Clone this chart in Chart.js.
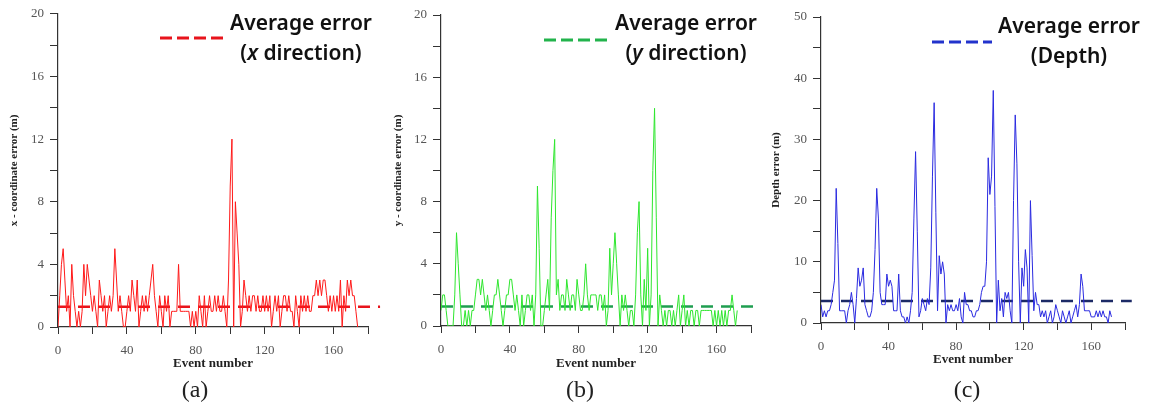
<!DOCTYPE html>
<html>
<head>
<meta charset="utf-8">
<script src="https://cdn.jsdelivr.net/npm/chart.js@4/dist/chart.umd.min.js"></script>
<style>
  body { margin: 0; background: #fff; }
  #wrap { position: relative; width: 1151px; height: 412px; background: #fff; overflow: hidden; }
  canvas { position: absolute; top: 0; }
  .leyenda { position: absolute; font-family: "Noto Sans", sans-serif; font-weight: 600; font-size: 21px; line-height: 30px; color: #111; text-align: center; width: 170px; }
  .muestra { position: absolute; }
  .letra { position: absolute; top: 376px; width: 60px; text-align: center; font-family: "Liberation Serif", serif; font-size: 24px; color: #222; }
</style>
</head>
<body>
<div id="wrap">
  <canvas id="chartX" width="385" height="380" style="left:0px"></canvas>
  <canvas id="chartY" width="385" height="380" style="left:380px"></canvas>
  <canvas id="chartZ" width="391" height="380" style="left:760px"></canvas>

  <svg class="muestra" style="left:160px;top:34px" width="64" height="8"><line x1="0" y1="4" x2="64" y2="4" stroke="#e8141c" stroke-width="3" stroke-dasharray="12,5"/></svg>
  <div class="leyenda" style="left:216px;top:7px">Average error<br>(<i>x</i> direction)</div>

  <svg class="muestra" style="left:544px;top:36px" width="64" height="8"><line x1="0" y1="4" x2="64" y2="4" stroke="#22b34c" stroke-width="3" stroke-dasharray="12,5"/></svg>
  <div class="leyenda" style="left:601px;top:7px">Average error<br>(<i>y</i> direction)</div>

  <svg class="muestra" style="left:932px;top:38px" width="60" height="8"><line x1="0" y1="4" x2="60" y2="4" stroke="#2233cc" stroke-width="3" stroke-dasharray="12,5"/></svg>
  <div class="leyenda" style="left:984px;top:10px">Average error<br>(Depth)</div>

  <div class="letra" style="left:165px">(a)</div>
  <div class="letra" style="left:550px">(b)</div>
  <div class="letra" style="left:937px">(c)</div>
</div>

<script>
// Datos (error por evento)
const errorX = [
  0,2,4,5,3,1,2,0,4,2,1,0,1,0,1,4,2,4,3,2,
  1,2,1,0,3,2,1,2,0,1,2,1,2,5,3,1,2,1,0,0,
  1,2,1,3,2,1,3,0,1,2,1,2,1,2,3,4,2,1,0,2,
  1,0,2,1,2,0,1,1,1,1,4,1,1,1,1,1,1,0,1,0,
  1,0,2,1,0,2,0,1,2,1,1,2,1,2,1,1,2,1,0,3,
  9,12,0,8,6,4,0,1,3,2,1,2,1,2,2,1,2,1,1,2,
  1,2,1,2,0,1,2,1,2,0,1,2,2,1,2,1,1,0,2,1,
  0,2,1,2,1,2,1,1,2,2,3,2,3,2,3,3,2,1,2,1,
  2,1,2,1,3,0,2,1,3,2,3,2,2,1,0
];

const errorY = [
  1,2,2,1,0,0,0,0,2,6,4,2,0,0,1,0,1,0,1,1,
  2,3,3,2,3,2,1,2,1,0,1,2,2,3,2,1,0,1,2,2,
  3,3,2,1,2,1,0,2,0,1,2,2,1,2,0,2,9,5,0,0,
  1,2,3,1,7,10,12,2,3,1,2,2,1,3,2,1,2,2,1,3,
  2,1,1,2,4,2,1,2,2,2,2,1,2,2,1,2,0,1,5,2,
  4,6,4,2,0,2,1,2,1,0,1,1,0,2,6,8,2,0,3,1,
  5,0,2,10,14,7,0,2,1,0,1,0,1,1,0,1,0,1,2,0,
  1,2,0,1,0,1,1,0,1,1,0,1,1,1,1,1,1,1,0,1,
  0,1,0,1,0,1,0,1,1,2,1,0,1
];

const errorZ = [
  3,1,2,1,2,2,3,5,7,22,13,2,2,2,2,0,2,3,5,3,
  0,4,9,6,7,9,3,2,1,1,2,5,12,22,17,5,3,3,3,8,
  6,7,6,2,2,2,8,2,1,1,0,1,0,2,5,17,28,15,1,2,
  4,3,2,4,3,9,24,36,18,2,11,8,10,8,0,3,2,3,2,2,
  3,2,4,1,0,5,3,3,2,2,1,1,2,2,3,5,6,6,10,27,
  21,24,38,19,0,7,2,4,1,5,4,5,2,0,20,34,26,10,0,9,
  6,12,9,0,20,11,2,5,3,3,1,2,1,2,0,1,2,0,1,3,
  2,1,0,2,1,0,1,2,0,1,2,3,1,3,8,6,2,2,2,2,
  1,1,1,2,1,2,1,2,1,1,0,2,1
];

// Promedios (linea discontinua)
const promedios = [1.3, 1.25, 3.6];
const finPromedio = [187, 185, 184];

// Ejes
const xMax = 180;
const xPaso = 20;
const yMaximos = [20, 20, 50];
const yPasos = [2, 2, 5];
const yEtiquetaCada = [4, 4, 10];

const titulosY = ["x - coordinate error (m)", "y - coordinate error (m)", "Depth error (m)"];
const tituloX = "Event number";


function crearPanel(id, datos, i, cfg) {
  const ctx = document.getElementById(id).getContext('2d');
  const serie = datos.map((v, k) => ({ x: k, y: v }));
  const prom = [{ x: 0, y: promedios[i] }, { x: finPromedio[i], y: promedios[i] }];

  return new Chart(ctx, {
    type: 'line',
    data: {
      datasets: [{
        data: serie,
        borderColor: cfg.color,
        borderWidth: 1,
        pointRadius: 0,
        tension: 0
      }, {
        data: prom,
        borderColor: cfg.colorProm,
        borderWidth: 2.5,
        borderDash: [12, 8],
        pointRadius: 0,
        clip: false
      }]
    },
    options: {
      responsive: false,
      animation: false,
      layout: { padding: cfg.padding },
      plugins: { legend: { display: false }, tooltip: { enabled: false } },
      scales: {
        x: {
          type: 'linear',
          min: 0,
          max: xMax,
          afterFit: (s) => { s.height = cfg.altoX; },
          border: { color: '#333', width: 1.2 },
          grid: { drawOnChartArea: false, drawTicks: true, tickLength: 7, color: '#333' },
          ticks: {
            stepSize: xPaso,
            autoSkip: false,
            maxRotation: 0,
            padding: 9,
            color: '#555',
            font: { family: 'Liberation Serif', size: 13 },
            callback: (v) => (v % 40 === 0 ? v : '')
          },
          title: {
            display: true,
            text: tituloX,
            color: '#222',
            padding: { top: 0, bottom: 4 },
            font: { family: 'Liberation Serif', size: 13, weight: 'bold' }
          }
        },
        y: {
          min: 0,
          max: yMaximos[i],
          afterFit: (s) => { s.width = cfg.anchoY; },
          border: { color: '#333', width: 1.2 },
          grid: { drawOnChartArea: false, drawTicks: true, tickLength: 8, color: '#333' },
          ticks: {
            stepSize: yPasos[i],
            autoSkip: false,
            padding: 6,
            color: '#555',
            font: { family: 'Liberation Serif', size: 13 },
            callback: (v) => (v % yEtiquetaCada[i] === 0 ? v : '')
          },
          title: {
            display: true,
            text: titulosY[i],
            color: '#222',
            padding: { top: cfg.padTitulo, bottom: 0 },
            font: { family: 'Liberation Serif', size: 11, weight: 'bold' }
          }
        }
      }
    }
  });
}

crearPanel("chartX", errorX, 0, {
  color: '#ff1a1a', colorProm: '#e8141c',
  padding: { top: 13, right: 17, bottom: 5, left: 0 },
  anchoY: 58, altoX: 48, padTitulo: 8
});
crearPanel("chartY", errorY, 1, {
  color: '#2ee62e', colorProm: '#1f9e50',
  padding: { top: 15, right: 14, bottom: 5, left: 0 },
  anchoY: 61, altoX: 49, padTitulo: 12
});
crearPanel("chartZ", errorZ, 2, {
  color: '#2a2ae0', colorProm: '#1c2a66',
  padding: { top: 17, right: 26, bottom: 9, left: 0 },
  anchoY: 61, altoX: 48, padTitulo: 10
});
</script>
</body>
</html>
